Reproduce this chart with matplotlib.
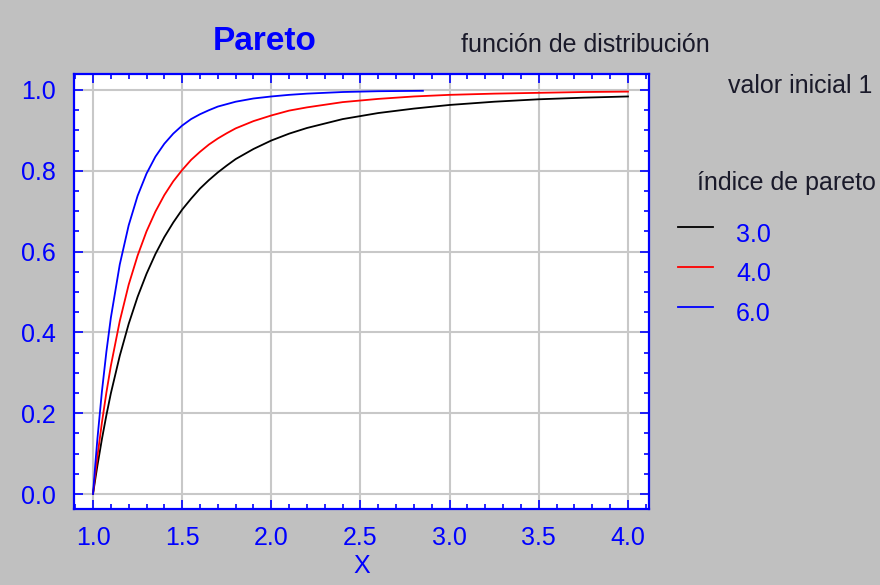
import matplotlib
matplotlib.use("Agg")
import matplotlib.pyplot as plt
from matplotlib.ticker import MultipleLocator

# ---- data ----
x_a3 = [1.0, 1.0125, 1.025, 1.05, 1.075, 1.1, 1.15, 1.2, 1.25, 1.3, 1.35, 1.4, 1.45, 1.5,
        1.55, 1.6, 1.65, 1.7, 1.75, 1.8, 1.9, 2.0, 2.1, 2.2, 2.4, 2.6, 2.8, 3.0, 3.25,
        3.5, 3.75, 4.0]
y_a3 = [0.0, 0.036, 0.071, 0.136, 0.195, 0.249, 0.342, 0.421, 0.488, 0.545, 0.594, 0.636,
        0.672, 0.704, 0.731, 0.756, 0.777, 0.796, 0.813, 0.829, 0.854, 0.875, 0.892, 0.906,
        0.928, 0.943, 0.954, 0.963, 0.971, 0.977, 0.981, 0.984]

x_a4 = [1.0, 1.0125, 1.025, 1.05, 1.075, 1.1, 1.15, 1.2, 1.25, 1.3, 1.35, 1.4, 1.45, 1.5,
        1.55, 1.6, 1.65, 1.7, 1.75, 1.8, 1.9, 2.0, 2.1, 2.2, 2.4, 2.6, 2.8, 3.0, 3.25,
        3.5, 3.75, 4.0]
y_a4 = [0.0, 0.048, 0.094, 0.177, 0.251, 0.317, 0.428, 0.518, 0.590, 0.650, 0.699, 0.740,
        0.774, 0.802, 0.827, 0.847, 0.865, 0.880, 0.893, 0.905, 0.923, 0.937, 0.949, 0.957,
        0.970, 0.978, 0.984, 0.988, 0.991, 0.993, 0.995, 0.996]

x_a6 = [1.0, 1.0125, 1.025, 1.05, 1.075, 1.1, 1.15, 1.2, 1.25, 1.3, 1.35, 1.4, 1.45, 1.5,
        1.55, 1.6, 1.65, 1.7, 1.75, 1.8, 1.9, 2.0, 2.1, 2.2, 2.4, 2.6, 2.85]
y_a6 = [0.0, 0.072, 0.138, 0.254, 0.352, 0.436, 0.568, 0.665, 0.738, 0.793, 0.835, 0.867,
        0.892, 0.912, 0.928, 0.940, 0.950, 0.959, 0.965, 0.971, 0.979, 0.984, 0.988, 0.991,
        0.995, 0.997, 0.998]

series_labels = ["3.0", "4.0", "6.0"]
series_colors = ["#000000", "#ff0000", "#0000ff"]

x_ticks = [1.0, 1.5, 2.0, 2.5, 3.0, 3.5, 4.0]
y_ticks = [0.0, 0.2, 0.4, 0.6, 0.8, 1.0]

BLUE = "#0000ff"
BG = "#c0c0c0"
TXT = "#1a1a2a"
FONT = "Liberation Sans"

fig = plt.figure(figsize=(8.8, 5.85), dpi=100, facecolor=BG)
ax = fig.add_axes([74 / 880, 1 - 509 / 585, (649 - 74) / 880, (509 - 74) / 585])
ax.set_facecolor("white")

for xs, ys, c in zip([x_a3, x_a4, x_a6], [y_a3, y_a4, y_a6], series_colors):
    ax.plot(xs, ys, color=c, lw=1.3)

ax.set_xlim(0.8934, 4.118)
ax.set_ylim(-0.0371, 1.0396)
ax.set_xticks(x_ticks)
ax.set_yticks(y_ticks)
ax.xaxis.set_minor_locator(MultipleLocator(0.1))
ax.yaxis.set_minor_locator(MultipleLocator(0.05))
ax.set_xticklabels([f"{v:.1f}" for v in x_ticks])
ax.set_yticklabels([f"{v:.1f}" for v in y_ticks])

ax.grid(True, which="major", color="#c8c8c8", lw=1.5)
ax.set_axisbelow(True)

for s in ax.spines.values():
    s.set_color(BLUE)
    s.set_linewidth(1.6)

ax.tick_params(which="both", direction="in", top=True, right=True, color=BLUE,
               labelcolor=BLUE, labelsize=18, width=1.2)
ax.tick_params(which="major", length=6.5)
ax.tick_params(which="minor", length=3.5)
ax.tick_params(axis="x", which="major", pad=12)
ax.tick_params(axis="y", which="major", pad=13)
for lab in ax.get_xticklabels() + ax.get_yticklabels():
    lab.set_fontfamily(FONT)

ax.set_xlabel("X", color=BLUE, fontsize=18, fontfamily=FONT, labelpad=3)

# texts
fig.text(265 / 880, 1 - 50 / 585, "Pareto", color=BLUE, fontsize=24, fontweight="bold",
         fontfamily=FONT, ha="center", va="baseline")
fig.text(585 / 880, 1 - 52 / 585, "función de distribución", color=TXT, fontsize=18,
         fontfamily=FONT, ha="center", va="baseline")
fig.text(872 / 880, 1 - 93 / 585, "valor inicial 1", color=TXT, fontsize=18,
         fontfamily=FONT, ha="right", va="baseline")
fig.text(697 / 880, 1 - 190 / 585, "índice de pareto", color=TXT, fontsize=18,
         fontfamily=FONT, ha="left", va="baseline")

# legend drawn manually
leg_y_line = [227, 267, 307]
leg_y_text = [235, 274, 314]
for lab, c, yl, yt in zip(series_labels, series_colors, leg_y_line, leg_y_text):
    fig.add_artist(plt.Line2D([678 / 880, 713 / 880], [1 - yl / 585, 1 - yl / 585],
                              color=c, lw=1.3, transform=fig.transFigure))
    fig.text(736 / 880, 1 - yt / 585, lab, color=BLUE, fontsize=18, fontfamily=FONT,
             ha="left", va="center")

fig.savefig("out.png", dpi=100, facecolor=BG)
